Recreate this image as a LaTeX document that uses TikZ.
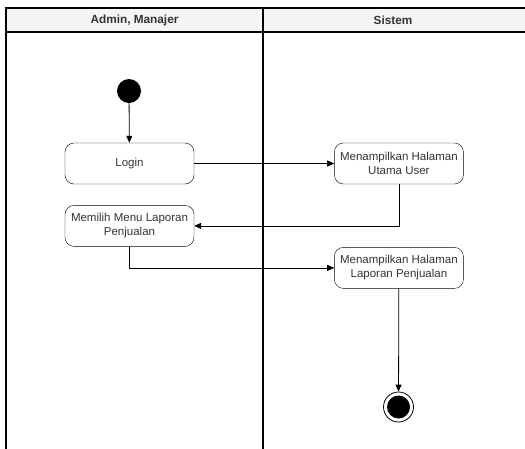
\documentclass[tikz,border=0pt]{standalone}
\usepackage{fontspec}
\setmainfont{Liberation Sans}
\usetikzlibrary{positioning,arrows.meta}
\colorlet{Txt}{black!80}
\tikzset{
  act/.style={draw, rounded corners=9pt, minimum width=129pt, minimum height=41pt,
    inner sep=1pt, align=center, text=Txt, font=\fontsize{11.5}{14}\selectfont},
  lane/.style={line width=1.3pt},
  head/.style={text=Txt, font=\fontsize{11.8}{13}\selectfont\bfseries},
  flow/.style={-{Triangle[length=7pt,width=6pt]}, line width=0.8pt},
  startnode/.style={circle, fill=black, minimum size=24pt, inner sep=0pt},
  endring/.style={circle, draw, line width=0.8pt, minimum size=30pt, inner sep=0pt},
  endcore/.style={circle, fill=black, minimum size=23pt, inner sep=0pt}
}
\begin{document}
\begin{tikzpicture}[x=1pt, y=-1pt]
        \useasboundingbox (0,0) rectangle (525,448);
        % lanes
        \fill[black!4] (6,8) rectangle (530,32);
        \draw[lane] (530,8) -- (6,8) -- (6,460);
        \draw[lane] (6,32) -- (530,32);
        \draw[lane] (263,8) -- (263,460);
        \node[head] (hAdmin) at (134.5,20) {Admin, Manajer};
        \node[head] (hSistem) at (393,20) {Sistem};

        % activities
        \node[startnode] (start) at (129,91) {};
        \node[act] (login) at (129.5,163.5) {Login};
        \node[act, below=21pt of login] (memilih) {Memilih Menu Laporan\\Penjualan};
        \node[act, right=140pt of login] (utama) {Menampilkan Halaman\\Utama User};
        \node[act, below=63pt of utama] (laporan) {Menampilkan Halaman\\Laporan Penjualan};
        \node[endring] (end) at (398.5,407) {};
        \node[endcore] (endC) at (end) {};

        % edges
        \draw[flow] (start) -- (login);
        \draw[flow] (login) -- (utama);
        \draw[flow] (utama.south) |- (memilih.east);
        \draw[flow] (memilih.south) |- (laporan.west);
        \draw[flow] (laporan) -- (end);
\end{tikzpicture}
\end{document}
